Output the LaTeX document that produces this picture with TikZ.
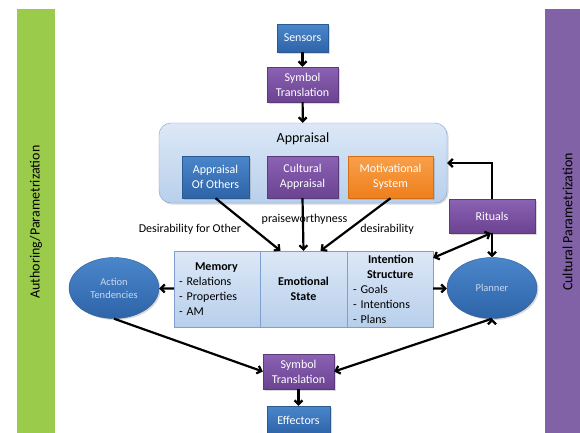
\documentclass[tikz,border=0pt]{standalone}
\usepackage{fontspec}
\setmainfont{Carlito}
\usetikzlibrary{arrows.meta,shapes.geometric,shadows}
\definecolor{bluetop}{HTML}{4A86CB}
\definecolor{bluebot}{HTML}{2E64A8}
\definecolor{blueedge}{HTML}{2B5A92}
\definecolor{purptop}{HTML}{8B62B4}
\definecolor{purpbot}{HTML}{6B4391}
\definecolor{purpedge}{HTML}{5A3A7A}
\definecolor{orngtop}{HTML}{F9A04A}
\definecolor{orngbot}{HTML}{EE7F1C}
\definecolor{orngedge}{HTML}{D46F15}
\definecolor{paletop}{HTML}{DCE8F7}
\definecolor{palebot}{HTML}{B8CFEB}
\definecolor{paleedge}{HTML}{7E9FCF}
\definecolor{elltext}{HTML}{C9D9EE}
\definecolor{authgreen}{HTML}{9BCB4B}
\definecolor{cultpurple}{HTML}{8162A6}

\begin{document}
\begin{tikzpicture}
		[x=1pt,y=-1pt,
		shade/.style={drop shadow={opacity=0.3,shadow xshift=1.5pt,shadow yshift=-1.5pt}},
		bluebox/.style ={rectangle, draw=blueedge, top color=bluetop, bottom color=bluebot, text=white, align=center, inner sep=1pt, font=\fontsize{12}{15}\selectfont, shade},
		purplebox/.style ={rectangle, draw=purpedge, top color=purptop, bottom color=purpbot, text=white, align=center, inner sep=1pt, font=\fontsize{12}{15}\selectfont, shade},
		orangebox/.style ={rectangle, draw=orngedge, top color=orngtop, bottom color=orngbot, text=white, align=center, inner sep=1pt, font=\fontsize{12}{15}\selectfont, shade},
		part/.style ={rectangle, draw=paleedge, top color=paletop, bottom color=palebot, minimum width=86pt, minimum height=76pt, font=\fontsize{12}{15}\selectfont, inner sep=0pt},
		cloud/.style ={ellipse, draw=blueedge, top color=bluetop, bottom color=bluebot, text=elltext, minimum width=90pt, minimum height=61pt, align=center, font=\fontsize{10.5}{13}\selectfont, shade},
		sidebar/.style ={rectangle, rotate=90, minimum height=38pt, minimum width=426pt, font=\fontsize{14}{16}\selectfont},
		tag/.style ={font=\fontsize{12}{14}\selectfont, inner sep=1pt},
		line/.style ={draw, line width=2.2pt, -{Straight Barb[length=4pt,width=8pt]}}]
		\useasboundingbox (0,0) rectangle (580,432);
		\draw (36,222) node[sidebar, fill=authgreen] (auth) {Authoring/Parametrization};
		\draw (567.5,222) node[sidebar, minimum height=45pt, fill=cultpurple] (cult) {Cultural Parametrization};

		\draw (302.5,38) node[bluebox, minimum width=51pt, minimum height=28pt] (sens) {Sensors};
		\draw (302.5,84.5) node[purplebox, minimum width=71pt, minimum height=35pt] (symin) {Symbol\\Translation};
		\draw (303,163) node[rectangle, rounded corners=12pt, draw=paleedge, top color=paletop, bottom color=palebot, minimum width=288pt, minimum height=80pt, shade] (appr) {};
		\draw (303,139) node[tag, font=\fontsize{14}{16}\selectfont] (apprtitle) {Appraisal};
		\draw (215.5,177) node[bluebox, minimum width=67pt, minimum height=42pt] (others) {Appraisal\\Of Others};
		\draw (302.5,177) node[purplebox, minimum width=71pt, minimum height=42pt] (cultappr) {Cultural\\Appraisal};
		\draw (390.5,177) node[orangebox, minimum width=85pt, minimum height=42pt] (motiv) {Motivational\\System};
		\draw (492,216) node[purplebox, minimum width=86pt, minimum height=34pt] (rit) {Rituals};

		\draw (190,229) node[tag] (desother) {Desirability for Other};
		\draw (304.5,219) node[tag] (praise) {praiseworthyness};
		\draw (387,229) node[tag] (desir) {desirability};

		\draw (217,289) node[part, text width=76pt, align=left] (mem) {\hspace*{16pt}\textbf{Memory}\\- Relations\\- Properties\\- AM};
		\draw (303.5,289) node[part, minimum width=87pt, align=center, font=\fontsize{12}{15}\selectfont\bfseries] (emo) {Emotional\\State};
		\draw (390,289) node[part, text width=74pt, align=left] (intent) {\hspace*{15pt}\textbf{Intention}\\\hspace*{14pt}\textbf{Structure}\\- Goals\\- Intentions\\- Plans};
		\draw (114,288) node[cloud] (act) {Action\\Tendencies};
		\draw (492,288) node[cloud] (plan) {Planner};

		\draw (298.5,371.5) node[purplebox, minimum width=71pt, minimum height=35pt] (symout) {Symbol\\Translation};
		\draw (298.5,420) node[bluebox, minimum width=63pt, minimum height=28pt] (eff) {Effectors};

		\path[line]
		(sens) edge (symin)
		(symin) edge (appr)
		(others.south) edge ([xshift=-23pt]emo.north)
		(cultappr.south) edge (emo.north)
		(motiv.south) edge ([xshift=17pt]emo.north)
		(rit.south) edge (plan.north)
		(mem) edge (act)
		(intent) edge (plan)
		(act.south) edge (symout.west)
		(plan.south) edge (symout.east)
		(symout) edge (eff);
		\draw[line] (rit.north) |- (appr.east);
		\draw[line, {Straight Barb[length=4pt,width=8pt]}-{Straight Barb[length=4pt,width=8pt]}] ([xshift=-1pt]rit.south) -- ([yshift=-7pt]intent.north east);

	\end{tikzpicture}
\end{document}
